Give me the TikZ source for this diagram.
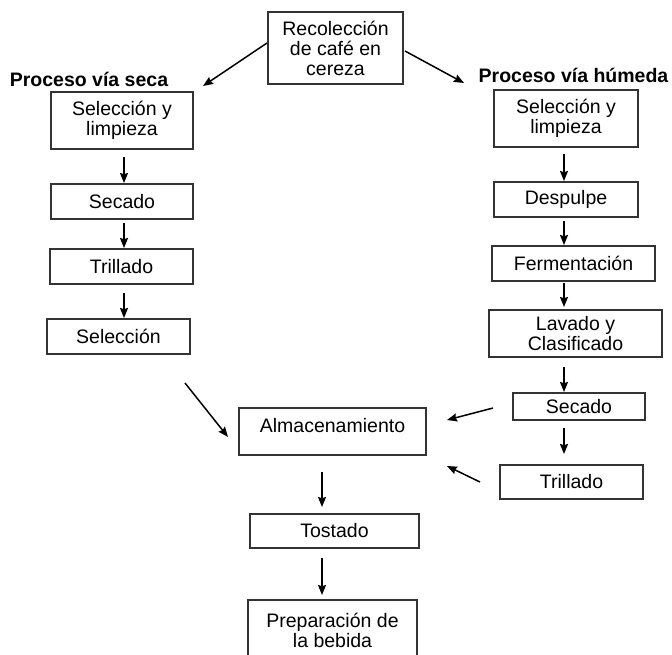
\documentclass[tikz,border=0pt]{standalone}
\usepackage{fontspec}
\setmainfont{Liberation Sans}
\usepackage{tikz}
\usetikzlibrary{calc}
\usetikzlibrary{positioning}
\usetikzlibrary{arrows.meta}
\tikzstyle{stage} = [rectangle, draw=black!80, line width=1pt, align=center, inner sep=0pt, font=\fontsize{9.75}{10}\selectfont]
\tikzstyle{heading} = [font=\fontsize{9.75}{10}\selectfont\bfseries]
\tikzstyle{arrow} = [line width=0.75pt, -{Stealth[length=5pt,width=4pt,inset=0.6pt]}, shorten <=3pt]

\begin{document}
\begin{tikzpicture}[x=0.5pt,y=-0.5pt]
    \clip (0,0) rectangle (672,654);

    \coordinate (laxis) at (124,0); %% arrows of the dry column
    \coordinate (raxis) at (564,0); %% arrows of the wet column
    \coordinate (caxis) at (322,0); %% arrows of the middle column

    \node[stage, minimum width=67.5pt, minimum height=36pt] (top) at (335.5,48) {Recolección\\de café en\\cereza};

    \node[heading] (seca) at (89,79) {Proceso vía seca};
    \node[heading] (humeda) at (573.5,75) {Proceso vía húmeda};

    %% dry process
    \node[stage, minimum width=71pt, minimum height=28.5pt] (l1) at (122,120.5) {Selección y\\limpieza};
    \node[stage, minimum width=71pt, minimum height=17.5pt] (l2) at (122,201.5) {Secado};
    \node[stage, minimum width=71.5pt, minimum height=17.5pt] (l3) at (121.5,266.5) {Trillado};
    \node[stage, minimum width=71.5pt, minimum height=17.5pt] (l4) at (118.5,336.5) {Selección};

    %% wet process
    \node[stage, minimum width=72pt, minimum height=28.5pt] (r1) at (566,118.5) {Selección y\\limpieza};
    \node[stage, minimum width=72pt, minimum height=17.5pt] (r2) at (566,199.5) {Despulpe};
    \node[stage, minimum width=81.5pt, minimum height=17.5pt] (r3) at (573.5,263.5) {Fermentación};
    \node[stage, minimum width=86.5pt, minimum height=23.5pt] (r4) at (575.5,333.5) {Lavado y\\Clasificado};
    \node[stage, minimum width=66pt, minimum height=13.5pt] (r5) at (579,406.5) {Secado};
    \node[stage, minimum width=71.5pt, minimum height=17pt] (r6) at (571.5,482) {Trillado};

    %% common end
    \node[stage, minimum width=93.5pt, minimum height=23.5pt, text height=7pt, text depth=6.5pt] (alm) at (332.5,431.5) {Almacenamiento};
    \node[stage, minimum width=84.5pt, minimum height=17pt] (tost) at (334.5,531) {Tostado};
    \node[stage, minimum width=84.5pt, minimum height=30pt] (prep) at (332.5,630) {Preparación de\\la bebida};

    \coordinate (toseca) at (203,86);
    \coordinate (tohumeda) at (464,83);
    \draw[arrow, shorten <=0pt] ($(top.west)+(0,-5)$) -- (toseca);
    \draw[arrow, shorten <=0pt] ($(top.east)+(1,3)$) -- (tohumeda);

    \draw[arrow, shorten <=3.5pt] (l1.south -| laxis) -- (l2.north -| laxis);
    \draw[arrow, shorten <=1.5pt] (l2.south -| laxis) -- (l3.north -| laxis);
    \draw[arrow, shorten <=4pt] (l3.south -| laxis) -- (l4.north -| laxis);

    \draw[arrow] (r1.south -| raxis) -- (r2.north -| raxis);
    \draw[arrow, shorten <=1.5pt] (r2.south -| raxis) -- (r3.north -| raxis);
    \draw[arrow, shorten <=0.5pt, shorten >=1pt] (r3.south -| raxis) -- (r4.north -| raxis);
    \draw[arrow, shorten <=4.5pt] (r4.south -| raxis) -- (r5.north -| raxis);
    \draw[arrow, shorten <=3.5pt, shorten >=5pt] (r5.south -| raxis) -- (r6.north -| raxis);

    \coordinate (l4out) at (185,383);
    \coordinate (almnw) at (228,437);
    \coordinate (r5out) at (493,408);
    \coordinate (almne) at (447,420);
    \coordinate (r6out) at (480,482);
    \coordinate (almse) at (447,466);
    \draw[arrow, shorten <=0pt] (l4out) -- (almnw);
    \draw[arrow, shorten <=0pt] (r5out) -- (almne);
    \draw[arrow, shorten <=0pt] (r6out) -- (almse);

    \draw[arrow, shorten <=8pt, shorten >=3pt] (alm.south -| caxis) -- (tost.north -| caxis);
    \draw[arrow, shorten <=4.5pt, shorten >=2pt] (tost.south -| caxis) -- (prep.north -| caxis);
\end{tikzpicture}
\end{document}
